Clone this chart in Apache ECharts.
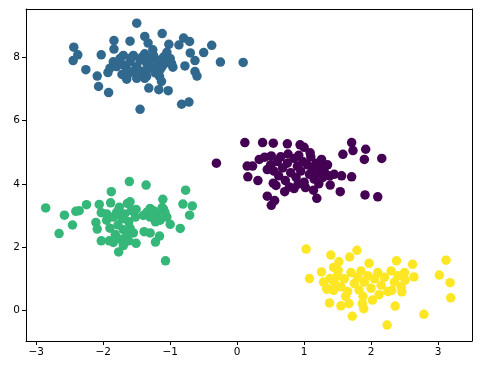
<!DOCTYPE html>
<html>
<head>
<meta charset="utf-8">
<script src="https://cdn.jsdelivr.net/npm/echarts@6/dist/echarts.min.js"></script>
<style>html,body{margin:0;padding:0;background:#fff}#c{width:480px;height:371px}</style>
</head>
<body>
<div id="c"></div>
<script>
const xTicks = [-3, -2, -1, 0, 1, 2, 3];
const yTicks = [0, 2, 4, 6, 8];

const cluster0 = [ // purple
  [0.115,5.30],[0.38,5.30],[0.54,5.28],[0.75,5.26],[0.94,5.23],[1.0,5.15],[1.71,5.30],[1.73,5.05],
  [1.92,5.09],[1.90,4.77],[2.16,4.80],[1.58,4.93],[1.09,4.98],[0.76,4.94],[0.33,4.77],[0.41,4.84],
  [0.51,4.88],[0.15,4.56],[0.23,4.56],[0.16,4.22],[0.31,4.10],[1.26,4.77],[1.71,4.22],[1.56,4.25],
  [1.39,3.96],[1.54,3.75],[1.19,3.54],[1.91,3.65],[2.10,3.59],[0.45,3.61],[0.56,3.47],[0.51,3.32],
  [0.71,3.75],[0.91,3.99],[0.54,4.02],[1.14,3.80],[-0.31,4.65],
  [0.50,4.60],[0.55,4.40],[0.60,4.70],[0.62,4.25],[0.68,4.50],[0.72,4.10],[0.75,4.65],[0.80,4.35],
  [0.85,4.80],[0.88,4.20],[0.90,4.55],[0.95,4.40],[0.98,4.70],[1.00,4.05],[1.05,4.60],[1.08,4.30],
  [1.10,4.85],[1.12,4.50],[1.15,4.15],[1.18,4.65],[1.20,4.35],[1.25,4.55],[1.28,4.20],[1.30,4.40],
  [1.35,4.60],[1.38,4.25],[0.45,4.45],[0.58,3.95],[0.78,3.90],[0.92,4.90],[1.02,3.88],[1.22,4.00],
  [1.45,4.30],[0.65,4.85],[0.85,3.85]
];

const cluster1 = [ // blue
  [-1.50,9.07],[-1.12,8.74],[-1.38,8.65],[-1.84,8.52],[-1.60,8.50],[-0.80,8.60],[-0.71,8.49],[-0.38,8.37],
  [-1.02,8.40],[-0.87,8.38],[-2.44,8.31],[-1.84,8.25],[-1.33,8.44],[-1.26,8.23],[-0.50,8.14],[-0.70,8.13],
  [-2.38,8.07],[-2.03,8.07],[-2.45,7.89],[-0.63,7.89],[-0.25,7.84],[0.09,7.83],[-0.96,7.68],[-0.78,7.72],
  [-2.26,7.60],[-1.93,7.51],[-0.63,7.54],[-0.60,7.40],[-2.09,7.40],[-1.65,7.30],[-1.50,7.33],[-1.38,7.33],
  [-1.16,7.39],[-1.13,7.23],[-2.07,7.07],[-1.92,6.88],[-1.32,7.02],[-1.17,6.97],[-1.03,6.94],[-0.83,6.51],
  [-0.72,6.58],[-1.45,6.35],
  [-1.75,7.95],[-1.70,7.75],[-1.65,7.60],[-1.60,7.85],[-1.55,8.05],[-1.50,7.70],[-1.45,7.90],[-1.40,7.55],
  [-1.38,8.10],[-1.35,7.80],[-1.30,7.65],[-1.28,7.95],[-1.25,8.05],[-1.20,7.75],[-1.18,7.90],[-1.15,7.60],
  [-1.10,8.00],[-1.08,7.80],[-1.05,8.15],[-1.00,7.95],[-1.80,7.70],[-1.72,7.45],[-1.62,7.48],[-1.55,7.55],
  [-1.48,7.45],[-1.42,8.00],[-1.32,7.88],[-1.22,7.50],[-1.12,7.70],[-1.70,8.05],[-1.85,7.85],[-1.90,7.65],
  [-0.98,7.80],[-1.58,7.98],[-1.35,7.40]
];

const cluster2 = [ // green
  [-2.86,3.24],[-2.66,2.43],[-2.58,3.01],[-2.46,2.70],[-2.41,3.13],[-2.36,3.15],[-2.25,3.34],[-2.06,3.35],
  [-2.03,3.09],[-2.11,2.78],[-2.09,2.57],[-2.03,2.20],[-1.91,2.20],[-1.88,3.75],[-1.89,3.40],[-1.61,4.07],
  [-1.36,3.96],[-1.60,3.43],[-1.64,3.38],[-1.76,3.26],[-1.51,3.19],[-1.77,1.85],[-1.51,2.12],[-1.39,2.49],
  [-1.30,2.45],[-1.16,2.35],[-1.22,2.16],[-1.11,3.51],[-1.07,1.57],[-1.00,2.72],[-0.85,2.59],[-0.77,3.80],
  [-0.81,3.36],[-0.67,3.30],[-0.71,3.01],
  [-1.40,3.00],[-1.35,3.10],[-1.30,2.95],[-1.25,3.15],[-1.20,3.05],[-1.15,2.85],[-1.10,3.20],[-1.05,2.95],
  [-1.08,3.10],[-1.22,2.80],[-1.30,3.22],[-1.12,3.25],
  [-1.95,2.85],[-1.90,2.60],[-1.85,2.95],[-1.82,2.40],[-1.80,3.10],[-1.78,2.70],[-1.75,2.25],[-1.72,2.90],
  [-1.70,2.55],[-1.68,3.05],[-1.65,2.35],[-1.62,2.80],[-1.60,2.60],[-1.58,3.15],[-1.55,2.45],[-1.52,2.95],
  [-1.85,2.15],[-1.70,2.05],[-1.62,2.20],[-1.95,3.05]
];

const cluster3 = [ // yellow
  [1.40,1.75],[1.79,1.90],[1.68,1.69],[1.52,1.54],[1.44,1.36],[1.51,1.27],[1.26,1.22],[1.97,1.49],
  [2.38,1.57],[2.62,1.46],[3.12,1.59],[3.02,1.12],[3.18,0.88],[3.19,0.40],[2.79,-0.12],[2.24,-0.46],
  [1.72,-0.18],[2.36,0.14],[1.38,0.24],[1.55,0.15],[1.67,0.22],[1.87,0.22],[1.89,0.06],[2.02,0.33],
  [1.34,0.70],[2.64,1.06],[2.51,0.96],[2.46,0.59],[2.31,0.64],[1.03,1.94],[1.08,1.01],[1.29,0.90],
  [1.39,1.01],[1.34,0.67],[1.44,0.64],
  [1.45,0.90],[1.50,1.10],[1.55,0.75],[1.60,1.00],[1.65,0.60],[1.70,1.20],[1.75,0.85],[1.80,1.05],
  [1.82,0.65],[1.85,1.25],[1.90,0.90],[1.95,1.10],[2.00,0.70],[2.05,1.00],[2.10,1.20],[2.15,0.80],
  [2.20,1.05],[2.25,0.60],[2.30,1.25],[2.35,0.90],[2.40,1.10],[2.45,0.75],[2.50,1.20],[1.88,0.45],
  [1.62,0.45],[2.12,0.50]
];

const colors = ['#440154', '#31688e', '#35b779', '#fde725'];
const clusters = [cluster0, cluster1, cluster2, cluster3];

const fmt = v => String(v).replace('-', '\u2212');
const labelStyle = {color: '#000', fontSize: 10.5, fontFamily: 'DejaVu Sans', margin: 6, formatter: fmt};
const lineStyle = {show: true, onZero: false, lineStyle: {color: '#000', width: 1}};

const chart = echarts.init(document.getElementById('c'), null, {renderer: 'canvas'});
chart.setOption({
  animation: false,
  grid: {left: 26, right: 8, top: 9, bottom: 30, containLabel: false},
  xAxis: [
    {type: 'value', min: -3.154, max: 3.508, axisLine: lineStyle,
     axisTick: {show: true, length: 4, lineStyle: {color: '#000'}, customValues: xTicks},
     axisLabel: Object.assign({customValues: xTicks}, labelStyle), splitLine: {show: false}},
    {type: 'value', position: 'top', min: -3.154, max: 3.508, axisLine: lineStyle,
     axisTick: {show: false}, axisLabel: {show: false}, splitLine: {show: false}}
  ],
  yAxis: [
    {type: 'value', min: -0.961, max: 9.516, axisLine: lineStyle,
     axisTick: {show: true, length: 4, lineStyle: {color: '#000'}, customValues: yTicks},
     axisLabel: Object.assign({customValues: yTicks}, labelStyle), splitLine: {show: false}},
    {type: 'value', position: 'right', min: -0.961, max: 9.516, axisLine: lineStyle,
     axisTick: {show: false}, axisLabel: {show: false}, splitLine: {show: false}}
  ],
  series: clusters.map((d, i) => ({
    type: 'scatter', data: d, symbolSize: 9.5, xAxisIndex: 0, yAxisIndex: 0,
    itemStyle: {color: colors[i], opacity: 1}
  }))
});
</script>
</body>
</html>
